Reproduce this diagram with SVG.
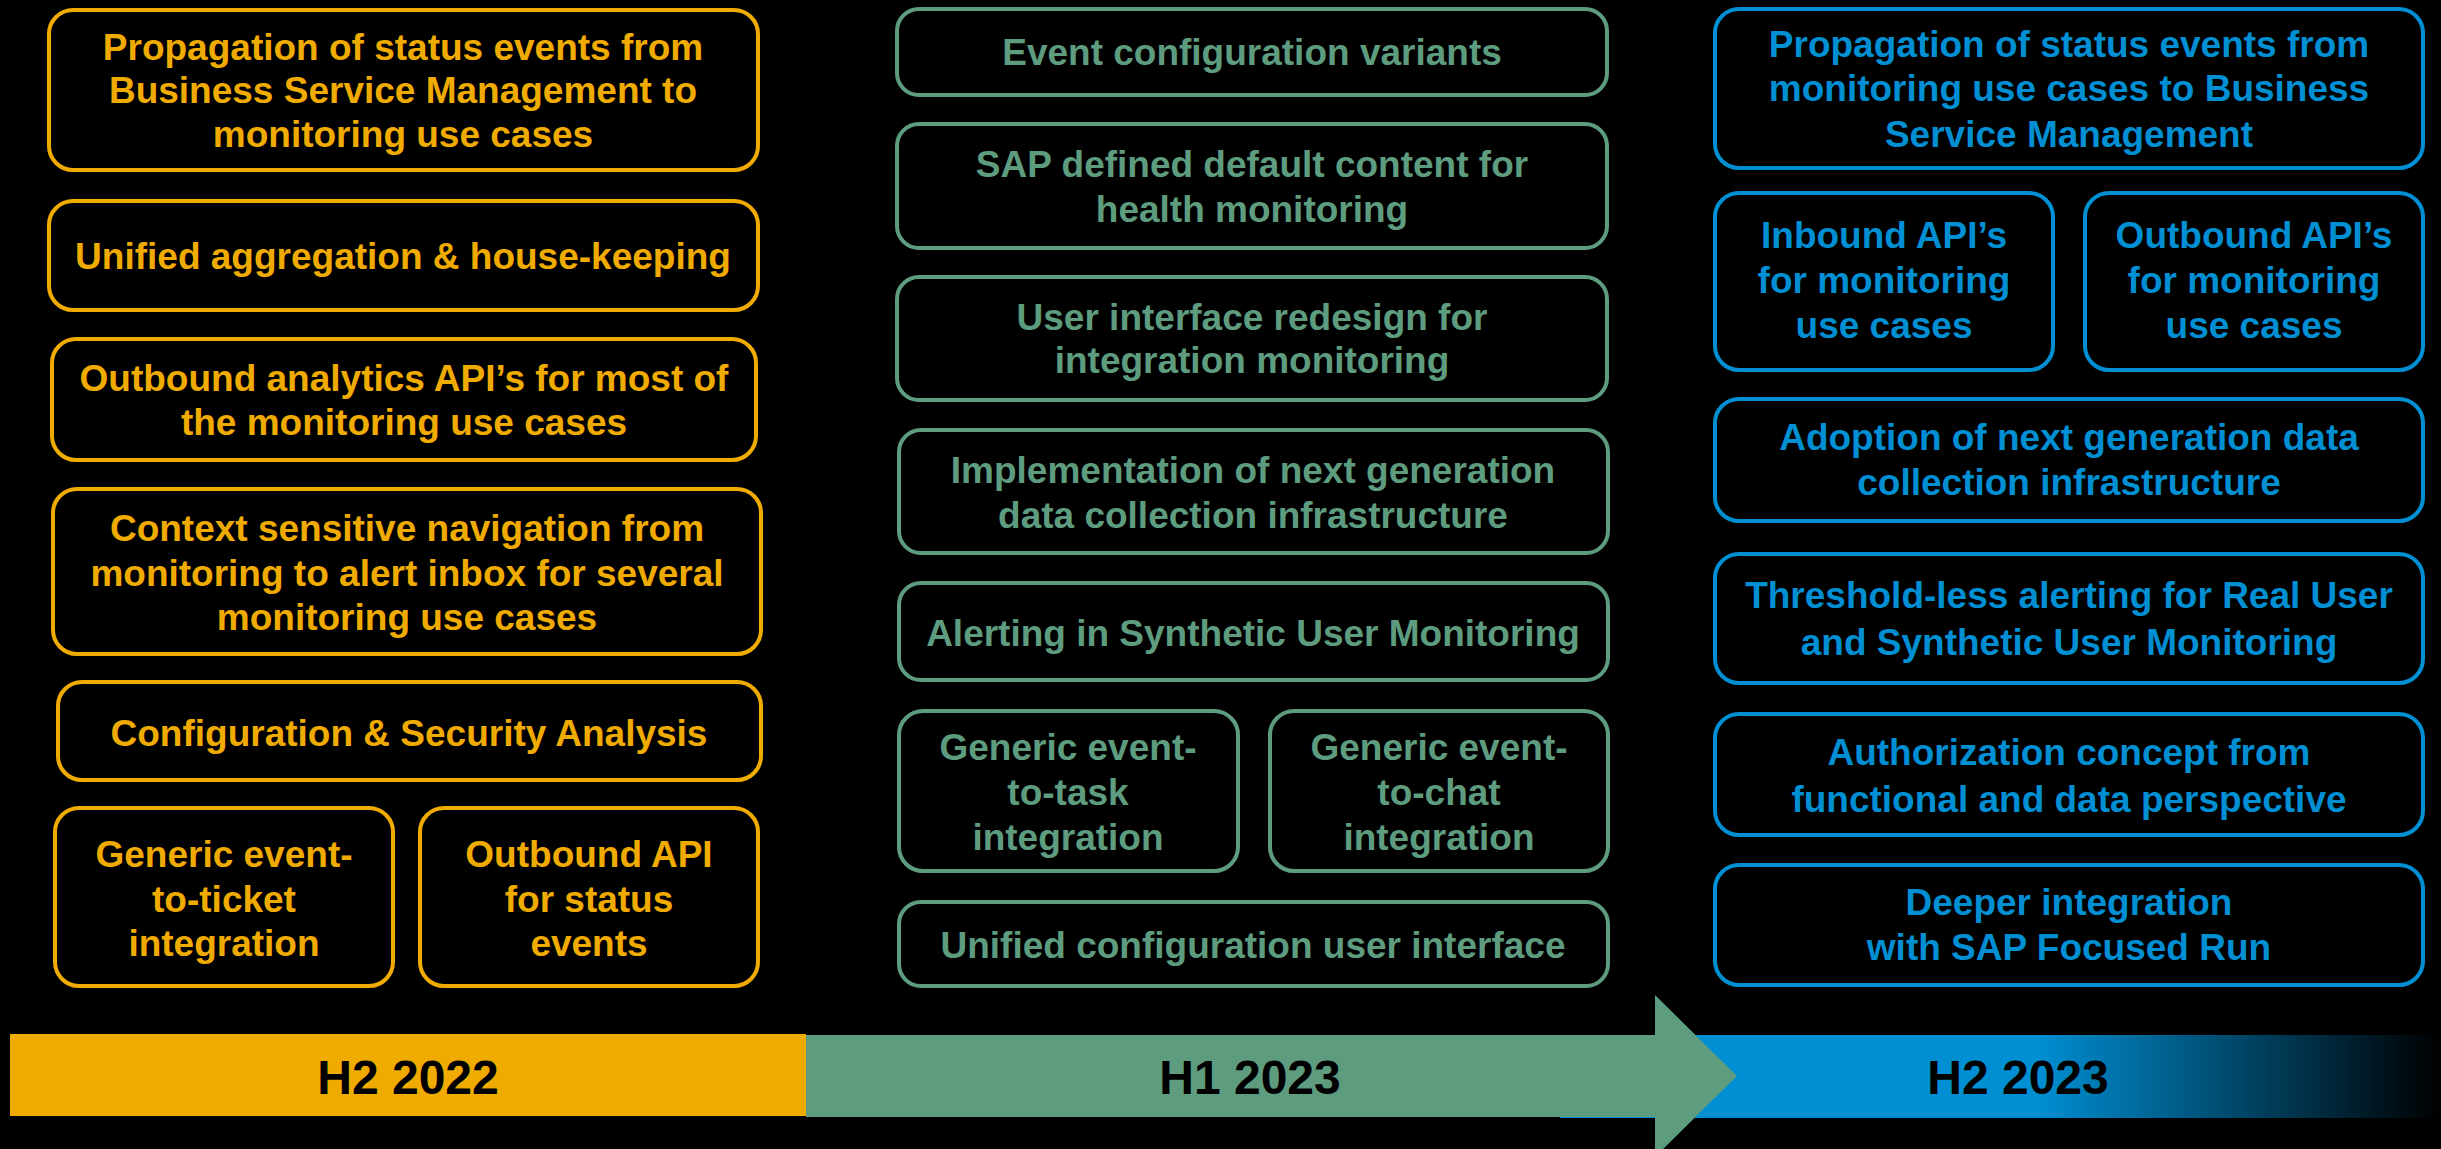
<svg xmlns="http://www.w3.org/2000/svg" width="2441" height="1149" viewBox="0 0 2441 1149">
<style>
.box{fill:#000;stroke-width:4}
.y{stroke:#F0AB00}
.g{stroke:#5E9C7F}
.b{stroke:#008FD3}
text{font-family:"Liberation Sans",Arial,sans-serif;font-weight:bold;font-size:37px;text-anchor:middle}
.ty{fill:#F0AB00}
.tg{fill:#5E9C7F}
.tb{fill:#008FD3}
.bar{font-size:48px;fill:#000}
</style>
<defs>
<linearGradient id="blueFade" gradientUnits="userSpaceOnUse" x1="1560" y1="0" x2="2441" y2="0">
<stop offset="0" stop-color="#008FD3"/>
<stop offset="0.54" stop-color="#008FD3"/>
<stop offset="1" stop-color="#000"/>
</linearGradient>
</defs>
<rect width="2441" height="1149" fill="#000"/>

<g id="timeline">
<rect x="10" y="1034" width="796" height="82" fill="#F0AB00"/>
<rect x="1560" y="1035" width="881" height="83" fill="url(#blueFade)"/>
<polygon points="806,1035 1655,1035 1655,995 1737,1076 1655,1157 1655,1117 806,1117" fill="#5E9C7F"/>
<text class="bar" x="408" y="1094">H2 2022</text>
<text class="bar" x="1250" y="1094">H1 2023</text>
<text class="bar" x="2018" y="1094">H2 2023</text>
</g>

<g id="h2-2022">
<g id="y1"><rect class="box y" x="49" y="10" width="709" height="160" rx="24"/>
<text class="ty" x="403" y="60">Propagation of status events from</text>
<text class="ty" x="403" y="103">Business Service Management to</text>
<text class="ty" x="403" y="147">monitoring use cases</text></g>
<g id="y2"><rect class="box y" x="49" y="201" width="709" height="109" rx="24"/>
<text class="ty" x="403" y="269">Unified aggregation &amp; house-keeping</text></g>
<g id="y3"><rect class="box y" x="52" y="339" width="704" height="121" rx="24"/>
<text class="ty" x="404" y="391">Outbound analytics API’s for most of</text>
<text class="ty" x="404" y="435">the monitoring use cases</text></g>
<g id="y4"><rect class="box y" x="53" y="489" width="708" height="165" rx="24"/>
<text class="ty" x="407" y="541">Context sensitive navigation from</text>
<text class="ty" x="407" y="586">monitoring to alert inbox for several</text>
<text class="ty" x="407" y="630">monitoring use cases</text></g>
<g id="y5"><rect class="box y" x="58" y="682" width="703" height="98" rx="24"/>
<text class="ty" x="409" y="746">Configuration &amp; Security Analysis</text></g>
<g id="y6"><rect class="box y" x="55" y="808" width="338" height="178" rx="24"/>
<text class="ty" x="224" y="867">Generic event-</text>
<text class="ty" x="224" y="912">to-ticket</text>
<text class="ty" x="224" y="956">integration</text></g>
<g id="y7"><rect class="box y" x="420" y="808" width="338" height="178" rx="24"/>
<text class="ty" x="589" y="867">Outbound API</text>
<text class="ty" x="589" y="912">for status</text>
<text class="ty" x="589" y="956">events</text></g>
</g>

<g id="h1-2023">
<g id="g1"><rect class="box g" x="897" y="9" width="710" height="86" rx="22"/>
<text class="tg" x="1252" y="65">Event configuration variants</text></g>
<g id="g2"><rect class="box g" x="897" y="124" width="710" height="124" rx="22"/>
<text class="tg" x="1252" y="177">SAP defined default content for</text>
<text class="tg" x="1252" y="222">health monitoring</text></g>
<g id="g3"><rect class="box g" x="897" y="277" width="710" height="123" rx="22"/>
<text class="tg" x="1252" y="330">User interface redesign for</text>
<text class="tg" x="1252" y="373">integration monitoring</text></g>
<g id="g4"><rect class="box g" x="899" y="430" width="709" height="123" rx="22"/>
<text class="tg" x="1253" y="483">Implementation of next generation</text>
<text class="tg" x="1253" y="528">data collection infrastructure</text></g>
<g id="g5"><rect class="box g" x="899" y="583" width="709" height="97" rx="22"/>
<text class="tg" x="1253" y="646">Alerting in Synthetic User Monitoring</text></g>
<g id="g6"><rect class="box g" x="899" y="711" width="339" height="160" rx="24"/>
<text class="tg" x="1068" y="760">Generic event-</text>
<text class="tg" x="1068" y="805">to-task</text>
<text class="tg" x="1068" y="850">integration</text></g>
<g id="g7"><rect class="box g" x="1270" y="711" width="338" height="160" rx="24"/>
<text class="tg" x="1439" y="760">Generic event-</text>
<text class="tg" x="1439" y="805">to-chat</text>
<text class="tg" x="1439" y="850">integration</text></g>
<g id="g8"><rect class="box g" x="899" y="902" width="709" height="84" rx="22"/>
<text class="tg" x="1253" y="958">Unified configuration user interface</text></g>
</g>

<g id="h2-2023">
<g id="b1"><rect class="box b" x="1715" y="9" width="708" height="159" rx="24"/>
<text class="tb" x="2069" y="57">Propagation of status events from</text>
<text class="tb" x="2069" y="101">monitoring use cases to Business</text>
<text class="tb" x="2069" y="147">Service Management</text></g>
<g id="b2"><rect class="box b" x="1715" y="193" width="338" height="177" rx="24"/>
<text class="tb" x="1884" y="248">Inbound API’s</text>
<text class="tb" x="1884" y="293">for monitoring</text>
<text class="tb" x="1884" y="338">use cases</text></g>
<g id="b3"><rect class="box b" x="2085" y="193" width="338" height="177" rx="24"/>
<text class="tb" x="2254" y="248">Outbound API’s</text>
<text class="tb" x="2254" y="293">for monitoring</text>
<text class="tb" x="2254" y="338">use cases</text></g>
<g id="b4"><rect class="box b" x="1715" y="399" width="708" height="122" rx="24"/>
<text class="tb" x="2069" y="450">Adoption of next generation data</text>
<text class="tb" x="2069" y="495">collection infrastructure</text></g>
<g id="b5"><rect class="box b" x="1715" y="554" width="708" height="129" rx="24"/>
<text class="tb" x="2069" y="608">Threshold-less alerting for Real User</text>
<text class="tb" x="2069" y="655">and Synthetic User Monitoring</text></g>
<g id="b6"><rect class="box b" x="1715" y="714" width="708" height="121" rx="24"/>
<text class="tb" x="2069" y="765">Authorization concept from</text>
<text class="tb" x="2069" y="812">functional and data perspective</text></g>
<g id="b7"><rect class="box b" x="1715" y="865" width="708" height="120" rx="24"/>
<text class="tb" x="2069" y="915">Deeper integration</text>
<text class="tb" x="2069" y="960">with SAP Focused Run</text></g>
</g>
</svg>
